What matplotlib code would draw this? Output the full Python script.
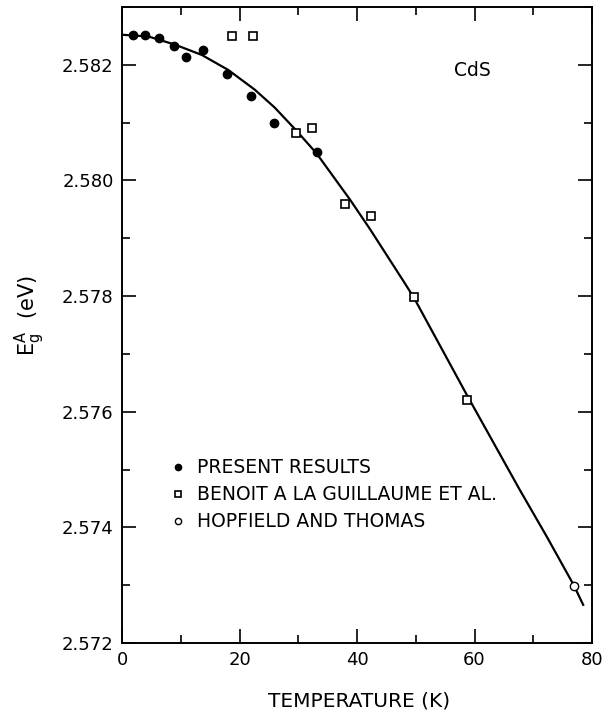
import matplotlib
matplotlib.use('Agg')
import matplotlib.pyplot as plt
from matplotlib.ticker import MultipleLocator, FormatStrFormatter

# present results (filled circles)
t_present = [1.9, 3.9, 6.3, 8.9, 10.9, 13.8, 17.9, 21.9, 25.9, 33.2]
e_present = [2.58252, 2.58252, 2.58247, 2.58232, 2.58214, 2.58225, 2.58184, 2.58146, 2.58099, 2.58050]

# Benoit a la Guillaume et al. (open squares)
t_benoit = [18.7, 22.3, 29.7, 32.4, 37.9, 42.4, 49.7, 58.8]
e_benoit = [2.58250, 2.58250, 2.58082, 2.58090, 2.57959, 2.57939, 2.57799, 2.57620]

# Hopfield and Thomas (open circle)
t_hopfield = [76.9]
e_hopfield = [2.57299]

# fitted curve
t_curve = [0, 4.5, 9.0, 13.6, 18.1, 22.6, 26.0, 29.7, 33.1, 38.8, 42.2, 47.9, 49.7,
           58.7, 67.7, 72.3, 76.9, 78.5]
e_curve = [2.58252, 2.58249, 2.58235, 2.58217, 2.58191, 2.58157, 2.58126, 2.58086,
           2.58047, 2.57967, 2.57916, 2.57826, 2.57797, 2.57629, 2.57465, 2.57384,
           2.57300, 2.57266]

plt.rcParams['font.family'] = ['DejaVu Sans']

fig = plt.figure(figsize=(6.13, 7.15), dpi=100)
ax = fig.add_axes([122 / 613, 1 - 643 / 715, 470 / 613, 636 / 715])

ax.plot(t_curve, e_curve, color='black', lw=1.6, zorder=2)
ax.plot(t_present, e_present, 'o', color='black', ms=6, zorder=3,
        label='PRESENT RESULTS')
ax.plot(t_benoit, e_benoit, 's', mfc='white', mec='black', mew=1.2, ms=6, zorder=3,
        label='BENOIT A LA GUILLAUME ET AL.')
ax.plot(t_hopfield, e_hopfield, 'o', mfc='white', mec='black', mew=1.0, ms=6, zorder=3,
        label='HOPFIELD AND THOMAS')

ax.set_xlim(0, 80)
ax.set_ylim(2.572, 2.583)
ax.xaxis.set_major_locator(MultipleLocator(20))
ax.xaxis.set_minor_locator(MultipleLocator(10))
ax.yaxis.set_major_locator(MultipleLocator(0.002))
ax.yaxis.set_minor_locator(MultipleLocator(0.001))
ax.yaxis.set_major_formatter(FormatStrFormatter('%.3f'))

ax.tick_params(which='both', direction='in', top=True, right=True, width=1.2,
               labelsize=13, pad=6)
ax.tick_params(which='major', length=10)
ax.tick_params(which='minor', length=5.5)
for s in ax.spines.values():
    s.set_linewidth(1.4)

ax.set_xlabel('TEMPERATURE (K)', fontsize=14.5)
ax.xaxis.set_label_coords(0.505, -0.076)
ax.set_ylabel(r'$\mathrm{E_g^A}$  (eV)', fontsize=15)
ax.yaxis.set_label_coords(-0.16, 0.515)

ax.text(0.745, 0.90, 'CdS', transform=ax.transAxes, fontsize=13.5, ha='center', va='center')

ax.legend(loc='upper left', bbox_to_anchor=(0.08, 0.305), frameon=False, fontsize=13.5,
          markerscale=0.75, handlelength=1.0, handletextpad=0.5, labelspacing=0.42,
          borderpad=0)

fig.savefig('out.png', dpi=100)
